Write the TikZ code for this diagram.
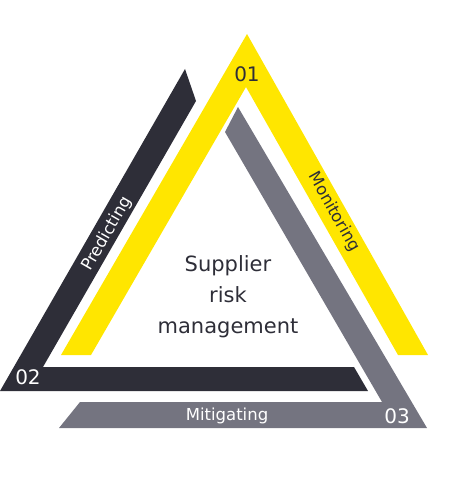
\documentclass[tikz,border=0pt]{standalone}
\usepackage{fontspec}
\setmainfont{DejaVu Sans}
\definecolor{eyyellow}{HTML}{FFE600}
\definecolor{eydark}{HTML}{2E2E38}
\definecolor{eygray}{HTML}{747480}
\begin{document}
\begin{tikzpicture}[x=1pt,y=-1pt,
    num/.style={font=\fontsize{20}{24}\selectfont},
    lbl/.style={font=\fontsize{16.5}{20}\selectfont}]

    % Frame
    \useasboundingbox (0,0) rectangle (460,481);

    % Monitoring band (yellow)
    \fill[eyyellow] (247,34) -- (428,355) -- (398,355) -- (246,87) -- (91,355) -- (61,355) -- cycle;

    % Predicting band (dark)
    \fill[eydark] (185,69) -- (196,101) -- (43,367) -- (354,367) -- (368,391) -- (0,391) -- cycle;

    % Mitigating band (gray)
    \fill[eygray] (238,107) -- (427,428) -- (59,428) -- (80,402) -- (382,402) -- (225,132) -- cycle;

    % Numbers
    \node[num,text=eydark] (one) at (247,74) {01};
    \node[num,text=white] (two) at (28,377) {02};
    \node[num,text=white] (three) at (397,416) {03};

    % Band labels
    \node[lbl,text=eydark,rotate=-60.5] (monitor) at (334,212) {Monitoring};
    \node[lbl,text=white,rotate=60.1] (predict) at (107,234) {Predicting};
    \node[lbl,text=white] (mitigate) at (227,416) {Mitigating};

    % Centre
    \node[font=\fontsize{21}{31}\selectfont,text=eydark,align=center] (centre) at (228,297) {Supplier\\risk\\management};

\end{tikzpicture}
\end{document}
